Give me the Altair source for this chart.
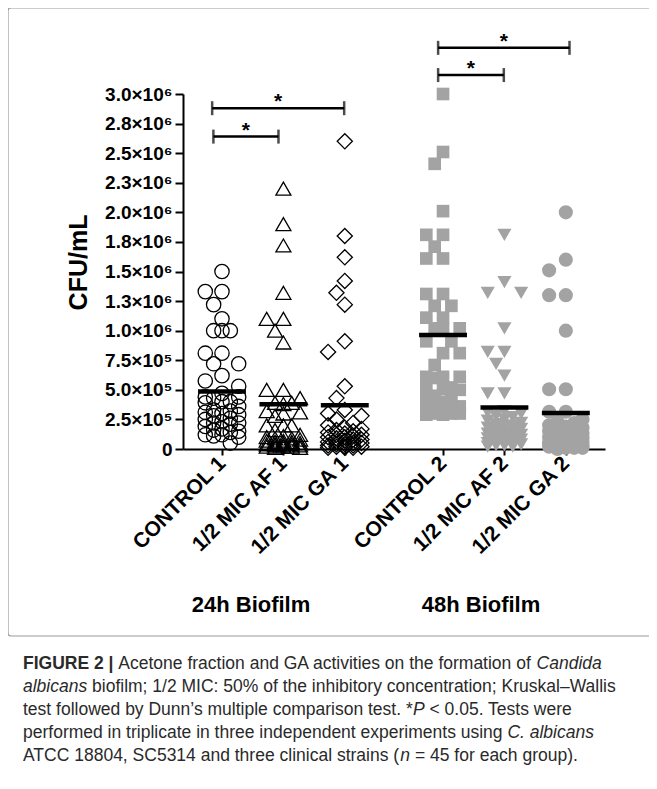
import json
import math
import altair as alt
import pandas as pd

# ---------------- data (values in units of 10^6 CFU/mL) ----------------
groups = ["CONTROL 1", "1/2 MIC AF 1", "1/2 MIC GA 1", "CONTROL 2", "1/2 MIC AF 2", "1/2 MIC GA 2"]
positions = [1.0, 2.0, 3.0, 4.6, 5.6, 6.6]

control_1 = [1.50, 1.33, 1.33, 1.22, 1.10, 1.00, 1.00, 1.00, 0.81, 0.81, 0.72, 0.72, 0.62, 0.575, 0.53,
             0.47, 0.44, 0.44, 0.43, 0.40, 0.40, 0.39, 0.36, 0.33, 0.32, 0.31, 0.30, 0.29, 0.28, 0.26,
             0.25, 0.23, 0.22, 0.22, 0.21, 0.19, 0.17, 0.16, 0.15, 0.14, 0.12, 0.12, 0.11, 0.10, 0.05]
af_1 = [2.20, 1.90, 1.72, 1.32, 1.10, 1.10, 1.00, 0.90, 0.50, 0.50, 0.43, 0.39, 0.39, 0.38, 0.32,
        0.31, 0.30, 0.28, 0.20, 0.20, 0.20, 0.16, 0.12, 0.11, 0.10, 0.09, 0.09, 0.08, 0.07, 0.07,
        0.06, 0.06, 0.05, 0.05, 0.04, 0.04, 0.04, 0.03, 0.03, 0.03, 0.02, 0.02, 0.02, 0.01, 0.01]
ga_1 = [2.60, 1.80, 1.62, 1.42, 1.32, 1.22, 0.91, 0.82, 0.53, 0.43, 0.33, 0.30, 0.28, 0.25, 0.22,
        0.20, 0.18, 0.17, 0.16, 0.15, 0.14, 0.13, 0.12, 0.12, 0.11, 0.10, 0.10, 0.09, 0.08, 0.08,
        0.07, 0.06, 0.06, 0.05, 0.05, 0.04, 0.04, 0.03, 0.03, 0.02, 0.02, 0.02, 0.01, 0.01, 0.01]
control_2 = [3.00, 2.51, 2.41, 2.01, 1.81, 1.81, 1.71, 1.61, 1.61, 1.31, 1.31, 1.21, 1.21, 1.11, 1.11,
             1.02, 1.02, 1.01, 0.91, 0.91, 0.81, 0.81, 0.71, 0.61, 0.61, 0.61, 0.60, 0.51, 0.51, 0.52,
             0.50, 0.45, 0.44, 0.41, 0.40, 0.36, 0.35, 0.34, 0.35, 0.30, 0.30, 0.29, 0.29, 0.31, 0.30]
af_2 = [1.81, 1.41, 1.32, 1.32, 1.02, 0.82, 0.82, 0.72, 0.62, 0.47, 0.47, 0.32, 0.31, 0.30, 0.28,
        0.27, 0.25, 0.24, 0.22, 0.21, 0.20, 0.19, 0.18, 0.17, 0.16, 0.15, 0.14, 0.13, 0.12, 0.12,
        0.11, 0.10, 0.09, 0.08, 0.08, 0.07, 0.06, 0.05, 0.05, 0.04, 0.04, 0.03, 0.03, 0.02, 0.02]
ga_2 = [2.00, 1.60, 1.51, 1.30, 1.30, 1.00, 0.505, 0.505, 0.315, 0.315, 0.25, 0.23, 0.22, 0.20, 0.19,
        0.18, 0.17, 0.16, 0.15, 0.14, 0.13, 0.12, 0.11, 0.10, 0.10, 0.09, 0.08, 0.08, 0.07, 0.06,
        0.06, 0.05, 0.05, 0.04, 0.04, 0.03, 0.03, 0.03, 0.02, 0.02, 0.02, 0.01, 0.01, 0.01, 0.00]
series = [control_1, af_1, ga_1, control_2, af_2, ga_2]
group_means = [0.485, 0.378, 0.370, 0.963, 0.350, 0.305]

y_ticks = [0, 0.25, 0.5, 0.75, 1.0, 1.25, 1.5, 1.75, 2.0, 2.25, 2.5, 2.75, 3.0]
y_tick_labels = ["0", "2.5×10⁵", "5.0×10⁵", "7.5×10⁵", "1.0×10⁶", "1.3×10⁶", "1.5×10⁶",
                 "1.8×10⁶", "2.0×10⁶", "2.3×10⁶", "2.5×10⁶", "2.8×10⁶", "3.0×10⁶"]

# significance brackets (x in axis units, level in 10^6 CFU/mL)
bracket_start = [0.84, 0.86, 4.52, 4.52]
bracket_end = [2.99, 1.92, 6.66, 5.59]
bracket_level = [2.88, 2.64, 3.39, 3.16]
bracket_label = ["*", "*", "*", "*"]

period_titles = ["24h Biofilm", "48h Biofilm"]

# caption: lines of (text, weight, style)
caption_lines = [
    [("FIGURE 2 |", "bold", "normal"),
     ("Acetone fraction and GA activities on the formation of", "normal", "normal"),
     ("Candida", "normal", "italic")],
    [("albicans", "normal", "italic"),
     ("biofilm; 1/2 MIC: 50% of the inhibitory concentration; Kruskal–Wallis", "normal", "normal")],
    [("test followed by Dunn’s multiple comparison test. *", "normal", "normal"),
     ("P", "normal", "italic"),
     ("< 0.05. Tests were", "normal", "normal")],
    [("performed in triplicate in three independent experiments using", "normal", "normal"),
     ("C. albicans", "normal", "italic")],
    [("ATCC 18804, SC5314 and three clinical strains (", "normal", "normal"),
     ("n", "normal", "italic"),
     ("= 45 for each group).", "normal", "normal")],
]
# whether a space separates segment k from segment k-1
caption_gaps = [[False, True, True], [False, True], [False, False, True], [False, True], [False, False, True]]

# ---------------- layout constants ----------------
W, H = 422, 355
X_DOMAIN = [0.365, 0.365 + W / 61.4]
Y_DOMAIN = [0, 3.0]
PX_X = W / (X_DOMAIN[1] - X_DOMAIN[0])
PX_Y = H / (Y_DOMAIN[1] - Y_DOMAIN[0])
FONT = "Liberation Sans"


def swarm(values, step=8.35, diam=14.0):
    """Prism-like scatter layout: columns at 0, +-step, +-2*step pixels."""
    cands = [0.0, -step, step, -2 * step, 2 * step]
    placed = []
    offs = [0.0] * len(values)
    order = sorted(range(len(values)), key=lambda i: -values[i])
    for i in order:
        y = values[i] * PX_Y
        best, bestd = cands[0], -1.0
        for c in cands:
            md = min((math.hypot(c - px, y - py) for px, py in placed), default=1e9)
            if md >= diam:
                best = c
                break
            if md > bestd:
                best, bestd = c, md
        placed.append((best, y))
        offs[i] = best / PX_X
    return offs


rows = []
for g, p, vals in zip(groups, positions, series):
    for v, o in zip(vals, swarm(vals)):
        rows.append({"group": g, "x": p + o, "value": v})
points = pd.DataFrame(rows)

xs = alt.Scale(domain=X_DOMAIN, nice=False, zero=False)
ys = alt.Scale(domain=Y_DOMAIN, nice=False, zero=False)

x_label_expr = f"{json.dumps(groups)}[indexof({json.dumps(positions)}, datum.value)]"
y_label_expr = f"{json.dumps(y_tick_labels, ensure_ascii=False)}[indexof({json.dumps(y_ticks)}, datum.value)]"

x_axis = alt.Axis(values=positions, labelExpr=x_label_expr, labelAngle=315, labelAlign="right",
                  labelBaseline="middle", labelFont=FONT, labelFontWeight="bold", labelFontSize=21,
                  labelColor="black", labelPadding=5, labelOverlap=False, labelFlush=False,
                  labelBound=False, tickSize=6, tickWidth=2, tickColor="black",
                  domainColor="black", domainWidth=2, grid=False, title=None)
y_axis = alt.Axis(values=y_ticks, labelExpr=y_label_expr, labelFont=FONT, labelFontWeight="bold",
                  labelFontSize=19, labelColor="black", labelPadding=3, labelOverlap=False,
                  labelFlush=False, tickSize=8, tickWidth=2,
                  tickColor="black", domainColor="black", domainWidth=2, grid=False,
                  title="CFU/mL", titleFont=FONT, titleFontWeight="bold", titleFontSize=25,
                  titleColor="black", titleX=-105, titleY=168, titleAngle=270,
                  titleAlign="center", titleBaseline="middle")


def X(field):
    return alt.X(field, type="quantitative", scale=xs, axis=x_axis)


def Y(field):
    return alt.Y(field, type="quantitative", scale=ys, axis=y_axis)


layers = []

styles = [
    dict(shape="circle", filled=False, size=205),
    dict(shape="triangle-up", filled=False, size=225),
    dict(shape="diamond", filled=False, size=230),
    dict(shape="square", filled=True, size=160),
    dict(shape="triangle-down", filled=True, size=200),
    dict(shape="circle", filled=True, size=200),
]
for g, st in zip(groups, styles):
    sub = points[points["group"] == g]
    if st["filled"]:
        mk = alt.Chart(sub).mark_point(shape=st["shape"], filled=True, size=st["size"],
                                        color="#a3a3a3", opacity=1)
    else:
        mk = alt.Chart(sub).mark_point(shape=st["shape"], filled=False, size=st["size"],
                                        color="black", strokeWidth=1.3, opacity=1)
    layers.append(mk.encode(x=X("x"), y=Y("value")))

# mean bars
means_df = pd.DataFrame({"pos": positions, "mean": group_means})
layers.append(alt.Chart(means_df).transform_calculate(
    x1="datum.pos - 0.39", x2="datum.pos + 0.39").mark_rule(color="black", strokeWidth=4.5).encode(
    x=X("x1"), x2="x2:Q", y=Y("mean")))

# brackets
br = pd.DataFrame({"start": bracket_start, "end": bracket_end, "level": bracket_level, "label": bracket_label})
layers.append(alt.Chart(br).mark_rule(color="black", strokeWidth=2.5).encode(
    x=X("start"), x2="end:Q", y=Y("level")))
layers.append(alt.Chart(br).transform_fold(["start", "end"], as_=["side", "xe"]).mark_tick(
    orient="vertical", size=14, thickness=2.5, color="black").encode(x=X("xe"), y=Y("level")))
layers.append(alt.Chart(br).transform_calculate(mid="(datum.start + datum.end) / 2").mark_text(
    font=FONT, fontWeight="bold", fontSize=21, baseline="alphabetic", align="center", color="black").encode(
    x=X("mid"), y=Y("level"), text="label:N"))

one = pd.DataFrame({"k": [0]})
OX, OY = 183, 94  # page position of the plot origin


def text_layer(txt, px, py, size, weight="normal", style="normal", align="left", color="black",
               baseline="middle"):
    return alt.Chart(one).mark_text(text=txt, font=FONT, fontSize=size, fontWeight=weight,
                                    fontStyle=style, align=align, baseline=baseline, color=color).encode(
        x=alt.value(px - OX), y=alt.value(py - OY))


# period titles
layers.append(text_layer(period_titles[0], 251, 605, 22, weight="bold", align="center"))
layers.append(text_layer(period_titles[1], 481, 605, 22, weight="bold", align="center"))

# figure frame
layers.append(alt.Chart(one).mark_rect(fill=None, stroke="#9a9a9a", strokeWidth=1.2, cornerRadius=3).encode(
    x=alt.value(8 - OX), x2=alt.value(656 - OX), y=alt.value(8 - OY), y2=alt.value(636 - OY)))

# caption, segments chained with approximate Liberation Sans advance widths
_REG = {" ": 278, "!": 278, "(": 333, ")": 333, "*": 389, ",": 278, "-": 333, ".": 278, "/": 278,
        ":": 278, ";": 278, "<": 584, "=": 584, "%": 889, "|": 260, "–": 556, "’": 222}
_REG.update({c: 556 for c in "0123456789"})
_REG.update(dict(zip("ABCDEFGHIJKLMNOPQRSTUVWXYZ",
                     [667, 667, 722, 722, 667, 611, 778, 722, 278, 500, 667, 556, 833, 722, 778, 667, 778,
                      722, 667, 611, 722, 667, 944, 667, 667, 611])))
_REG.update(dict(zip("abcdefghijklmnopqrstuvwxyz",
                     [556, 556, 500, 556, 556, 278, 556, 556, 222, 222, 500, 222, 833, 556, 556, 556, 556,
                      333, 500, 278, 556, 500, 722, 500, 500, 500])))
_BOLD = dict(_REG)
_BOLD.update({"F": 611, "I": 278, "G": 778, "U": 722, "R": 722, "E": 667, "2": 556, "|": 280})


def text_width(s, size, bold=False):
    tab = _BOLD if bold else _REG
    return sum(tab.get(c, 556) for c in s) * size / 1000.0


CAP = 17.5
cap_color = "#2a2a2a"
cap_x0 = 23
cap_y = [664, 687, 710, 733, 756]
for li, (segs, gaps) in enumerate(zip(caption_lines, caption_gaps)):
    x = cap_x0
    for (txt, wt, sty), gap in zip(segs, gaps):
        if gap:
            x += text_width(" ", CAP)
        layers.append(text_layer(txt, x, cap_y[li], CAP, weight=wt, style=sty, color=cap_color))
        x += text_width(txt, CAP, bold=(wt == "bold"))

chart = alt.layer(*layers).properties(
    width=W, height=H,
    autosize=alt.AutoSizeParams(type="none"),
    padding={"left": OX - 8, "top": OY - 8, "right": 657 - 16 - (OX - 8) - W, "bottom": 330},
).configure_view(stroke=None)

chart.save("out.html", embed_options={"renderer": "svg", "actions": False})
